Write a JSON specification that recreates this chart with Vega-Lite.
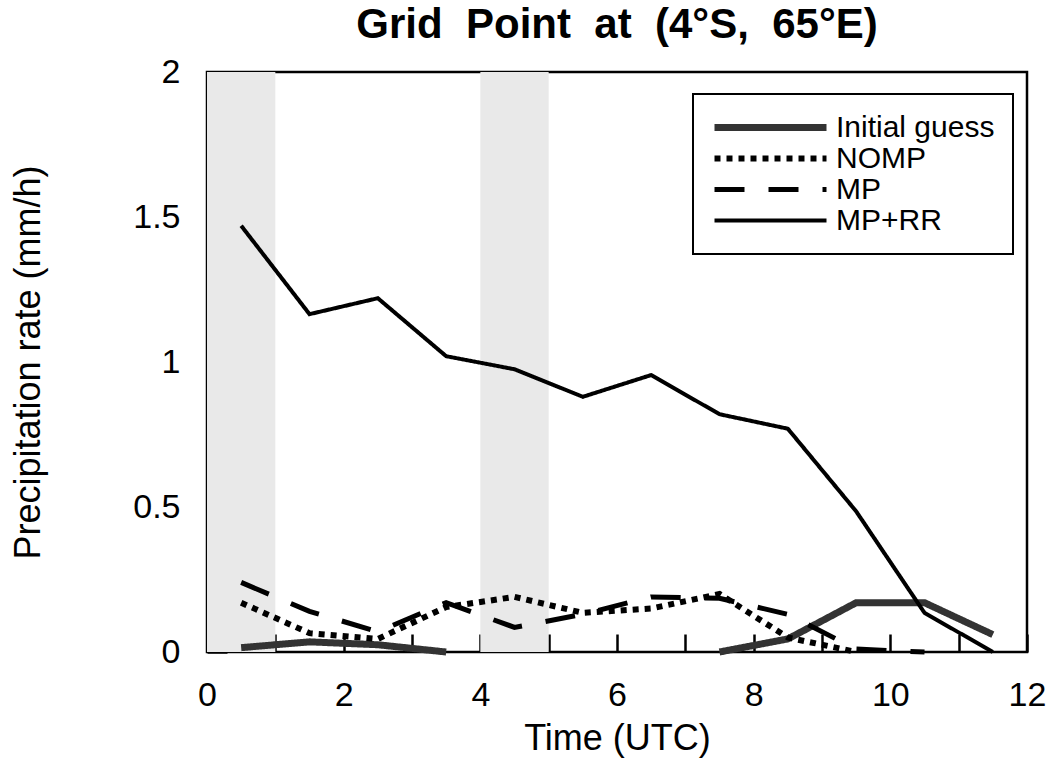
{
  "$schema": "https://vega.github.io/schema/vega-lite/v6.json",
  "width": 820,
  "height": 580,
  "autosize": "none",
  "padding": {"left": 207, "top": 72, "right": 30, "bottom": 118},
  "background": "white",
  "title": {
    "text": "Grid\u00a0\u00a0Point\u00a0\u00a0at\u00a0\u00a0(4°S,\u00a0\u00a065°E)",
    "font": "Liberation Sans",
    "fontSize": 42,
    "fontWeight": "bold",
    "color": "black",
    "anchor": "middle",
    "frame": "group",
    "baseline": "alphabetic",
    "offset": 5,
    "dy": 30
  },
  "encoding": {
    "x": {
      "field": "t",
      "type": "quantitative",
      "scale": {"domain": [0, 12], "nice": false, "zero": false},
      "axis": {
        "title": "Time (UTC)",
        "values": [0, 1, 2, 3, 4, 5, 6, 7, 8, 9, 10, 11, 12],
        "labelExpr": "datum.value % 2 === 0 ? datum.label : ''",
        "tickSize": -18,
        "labelPadding": 44,
        "titlePadding": 9,
        "labelFlush": false
      }
    }
  },
  "layer": [
    {
      "data": {"values": [
        {"t": 0, "t2": 1},
        {"t": 4, "t2": 5}
      ]},
      "mark": {"type": "rect", "fill": "#e9e9e9"},
      "encoding": {"x2": {"field": "t2"}}
    },
    {
      "data": {"values": [
        {"series": "Initial guess", "seg": "a", "t": 0.5, "v": 0.015},
        {"series": "Initial guess", "seg": "a", "t": 1.5, "v": 0.035},
        {"series": "Initial guess", "seg": "a", "t": 2.5, "v": 0.025},
        {"series": "Initial guess", "seg": "a", "t": 3.5, "v": 0.0},
        {"series": "Initial guess", "seg": "b", "t": 7.5, "v": 0.0},
        {"series": "Initial guess", "seg": "b", "t": 8.5, "v": 0.045},
        {"series": "Initial guess", "seg": "b", "t": 9.5, "v": 0.17},
        {"series": "Initial guess", "seg": "b", "t": 10.5, "v": 0.17},
        {"series": "Initial guess", "seg": "b", "t": 11.5, "v": 0.06},
        {"series": "NOMP", "seg": "a", "t": 0.5, "v": 0.17},
        {"series": "NOMP", "seg": "a", "t": 1.5, "v": 0.065},
        {"series": "NOMP", "seg": "a", "t": 2.5, "v": 0.045},
        {"series": "NOMP", "seg": "a", "t": 3.5, "v": 0.155},
        {"series": "NOMP", "seg": "a", "t": 4.5, "v": 0.19},
        {"series": "NOMP", "seg": "a", "t": 5.5, "v": 0.135},
        {"series": "NOMP", "seg": "a", "t": 6.5, "v": 0.15},
        {"series": "NOMP", "seg": "a", "t": 7.5, "v": 0.2},
        {"series": "NOMP", "seg": "a", "t": 8.5, "v": 0.05},
        {"series": "NOMP", "seg": "a", "t": 9.5, "v": 0.0},
        {"series": "MP", "seg": "a", "t": 0.5, "v": 0.24},
        {"series": "MP", "seg": "a", "t": 1.5, "v": 0.14},
        {"series": "MP", "seg": "a", "t": 2.5, "v": 0.07},
        {"series": "MP", "seg": "a", "t": 3.5, "v": 0.17},
        {"series": "MP", "seg": "a", "t": 4.5, "v": 0.085},
        {"series": "MP", "seg": "a", "t": 5.5, "v": 0.13},
        {"series": "MP", "seg": "a", "t": 6.5, "v": 0.19},
        {"series": "MP", "seg": "a", "t": 7.5, "v": 0.185},
        {"series": "MP", "seg": "a", "t": 8.5, "v": 0.13},
        {"series": "MP", "seg": "a", "t": 9.5, "v": 0.01},
        {"series": "MP", "seg": "a", "t": 10.5, "v": 0.0},
        {"series": "MP+RR", "seg": "a", "t": 0.5, "v": 1.47},
        {"series": "MP+RR", "seg": "a", "t": 1.5, "v": 1.165},
        {"series": "MP+RR", "seg": "a", "t": 2.5, "v": 1.22},
        {"series": "MP+RR", "seg": "a", "t": 3.5, "v": 1.02},
        {"series": "MP+RR", "seg": "a", "t": 4.5, "v": 0.975},
        {"series": "MP+RR", "seg": "a", "t": 5.5, "v": 0.88},
        {"series": "MP+RR", "seg": "a", "t": 6.5, "v": 0.955},
        {"series": "MP+RR", "seg": "a", "t": 7.5, "v": 0.82},
        {"series": "MP+RR", "seg": "a", "t": 8.5, "v": 0.77},
        {"series": "MP+RR", "seg": "a", "t": 9.5, "v": 0.485},
        {"series": "MP+RR", "seg": "a", "t": 10.5, "v": 0.135},
        {"series": "MP+RR", "seg": "a", "t": 11.5, "v": 0.0}
      ]},
      "mark": {"type": "line", "strokeCap": "butt", "clip": false},
      "encoding": {
        "y": {
          "field": "v",
          "type": "quantitative",
          "scale": {"domain": [0, 2], "nice": false},
          "axis": {
            "title": "Precipitation rate (mm/h)",
            "values": [0, 0.5, 1, 1.5, 2],
            "format": ".1~f",
            "tickSize": -20,
            "labelPadding": 47,
            "titlePadding": 85,
            "labelFlush": false
          }
        },
        "detail": {"field": "seg"},
        "color": {
          "field": "series",
          "type": "nominal",
          "scale": {"domain": ["Initial guess", "NOMP", "MP", "MP+RR"], "range": ["#333333", "#000000", "#000000", "#000000"]},
          "legend": {"title": null, "orient": "none", "legendX": 486, "legendY": 22, "symbolType": "M-1,0H1", "symbolSize": 12544, "clipHeight": 31, "padding": 18, "strokeColor": "black", "rowPadding": 0, "labelOffset": 6, "labelFontSize": 30, "labelFont": "Liberation Sans", "labelColor": "black", "labelLimit": 400}
        },
        "strokeDash": {
          "field": "series",
          "type": "nominal",
          "scale": {"domain": ["Initial guess", "NOMP", "MP", "MP+RR"], "range": [[1, 0], [6, 6], [30, 24], [1, 0]]},
          "legend": {"title": null, "orient": "none", "legendX": 486, "legendY": 22, "symbolType": "M-1,0H1", "symbolSize": 12544, "clipHeight": 31, "padding": 18, "strokeColor": "black", "rowPadding": 0, "labelOffset": 6, "labelFontSize": 30, "labelFont": "Liberation Sans", "labelColor": "black", "labelLimit": 400}
        },
        "strokeWidth": {
          "field": "series",
          "type": "nominal",
          "scale": {"domain": ["Initial guess", "NOMP", "MP", "MP+RR"], "range": [7, 4, 4, 4]},
          "legend": {"title": null, "orient": "none", "legendX": 486, "legendY": 22, "symbolType": "M-1,0H1", "symbolSize": 12544, "clipHeight": 31, "padding": 18, "strokeColor": "black", "rowPadding": 0, "labelOffset": 6, "labelFontSize": 30, "labelFont": "Liberation Sans", "labelColor": "black", "labelLimit": 400}
        }
      }
    }
  ],
  "config": {
    "view": {"stroke": "black", "strokeWidth": 2.5},
    "axis": {
      "labelFont": "Liberation Sans",
      "labelFontSize": 34,
      "labelColor": "black",
      "titleFont": "Liberation Sans",
      "titleFontSize": 36,
      "titleFontWeight": "normal",
      "titleColor": "black",
      "domain": false,
      "grid": false,
      "tickColor": "black",
      "tickWidth": 2.5
    },
    "legend": {"strokeWidth": 2}
  }
}
